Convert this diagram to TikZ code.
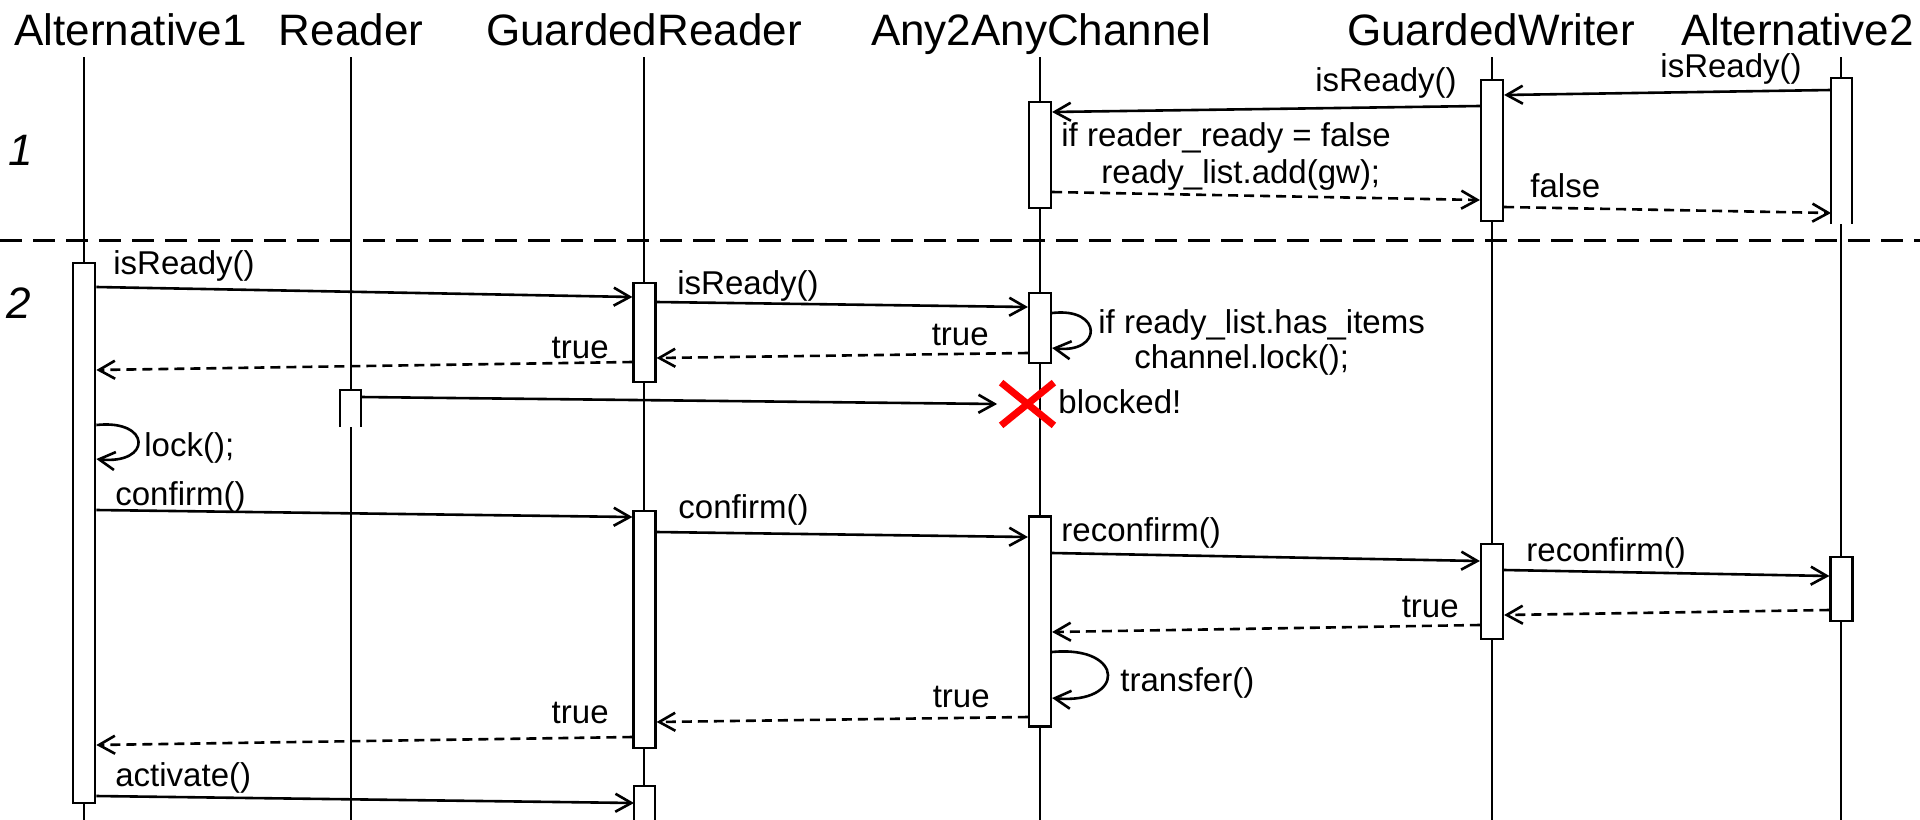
\documentclass[tikz,border=0pt]{standalone}
\usepackage{fontspec}
\setmainfont{Liberation Sans}
\usetikzlibrary{arrows.meta}
\tikzset{
  ttl/.style={font=\fontsize{22}{26}\selectfont, inner sep=0pt},
  sect/.style={font=\fontsize{22}{26}\selectfont\itshape, inner sep=0pt},
  lbl/.style={font=\fontsize{16.5}{18}\selectfont, inner sep=0pt},
  life/.style={line width=1pt},
  actbox/.style={draw, fill=white, line width=1.1pt, minimum width=11pt, inner sep=0pt},
  openbox/.style={line width=1.1pt},
  msg/.style={line width=1.3pt, -{Straight Barb[length=8pt,width=9pt,line width=1.3pt]}},
  ret/.style={msg, dash pattern=on 5pt off 3pt},
  sep/.style={line width=1.5pt, dash pattern=on 11pt off 5.5pt},
  cross/.style={red, line width=3.5pt},
}
\begin{document}
\begin{tikzpicture}[x=0.5pt,y=-0.5pt]
\useasboundingbox (0,0) rectangle (1920,819);
% titles
\node[ttl, anchor=base west] (tA1) at (14,45) {Alternative1};
\node[ttl, anchor=base] (tR) at (351,45) {Reader};
\node[ttl, anchor=base] (tGR) at (644,45) {GuardedReader};
\node[ttl, anchor=base] (tC) at (1041,45) {Any2AnyChannel};
\node[ttl, anchor=base] (tGW) at (1491,45) {GuardedWriter};
\node[ttl, anchor=base east] (tA2) at (1914,45) {Alternative2};
% lifeline ends
\coordinate (LA1a) at (84,57);   \coordinate (LA1b) at (84,830);
\coordinate (LRa) at (351,57);   \coordinate (LRb) at (351,830);
\coordinate (LGRa) at (644,57);  \coordinate (LGRb) at (644,830);
\coordinate (LCa) at (1040,57);  \coordinate (LCb) at (1040,830);
\coordinate (LGWa) at (1492,57); \coordinate (LGWb) at (1492,830);
\coordinate (LA2a) at (1841,57); \coordinate (LA2b) at (1841,830);
\draw[life] (LA1a) -- (LA1b);
\draw[life] (LRa) -- (LRb);
\draw[life] (LGRa) -- (LGRb);
\draw[life] (LCa) -- (LCb);
\draw[life] (LGWa) -- (LGWb);
\draw[life] (LA2a) -- (LA2b);
% separator
\coordinate (sepL) at (0,240); \coordinate (sepR) at (1920,240);
\draw[sep] (sepL) -- (sepR);
\node[sect, anchor=base west] (s1) at (8,165) {1};
\node[sect, anchor=base west] (s2) at (6,318) {2};
% activation boxes
\node[actbox, minimum height=70.5pt] (gw1) at (1492,150.5) {};
\node[actbox, minimum height=53pt] (c1) at (1040,155) {};
\node[actbox, minimum height=270pt] (a1) at (84.25,533) {};
\node[actbox, minimum height=49.5pt] (gr1) at (644.5,332.5) {};
\node[actbox, minimum height=35pt] (c2) at (1040,328) {};
\node[actbox, minimum height=118.5pt] (gr2) at (644.5,629.5) {};
\node[actbox, minimum height=105pt] (c3) at (1040,621.5) {};
\node[actbox, minimum height=47.5pt] (gw2) at (1492,591.5) {};
\node[actbox, minimum height=32pt] (a2b) at (1841.5,589) {};
% open-bottom boxes
\coordinate (a2tW) at (1831,78); \coordinate (a2tE) at (1852,78);
\fill[white] (1831,78) rectangle (1852,224);
\draw[openbox] (a2tW |- 0,224) -- (a2tW) -- (a2tE) -- (a2tE |- 0,224);
\coordinate (rdW) at (340,390); \coordinate (rdE) at (361,390);
\fill[white] (340,390) rectangle (361,427);
\draw[openbox] (rdW |- 0,427) -- (rdW) -- (rdE) -- (rdE |- 0,427);
\coordinate (gr3W) at (634,786); \coordinate (gr3E) at (655,786);
\fill[white] (634,786) rectangle (655,840);
\draw[openbox] (gr3W |- 0,840) -- (gr3W) -- (gr3E) -- (gr3E |- 0,840);
% section 1 messages
\draw[msg] (a2tW |- 0,90) -- (gw1.east |- 0,95);
\node[lbl, anchor=base west] (l1) at (1660,77) {isReady()};
\draw[msg] (gw1.west |- 0,106) -- (c1.east |- 0,112);
\node[lbl, anchor=base west] (l2) at (1315,91) {isReady()};
\node[lbl, anchor=base west] (l3a) at (1061,146) {if reader\_ready = false};
\node[lbl, anchor=base west] (l3b) at (1101,183) {ready\_list.add(gw);};
\draw[ret] (c1.east |- 0,192) -- (gw1.west |- 0,200);
\draw[ret] (gw1.east |- 0,207) -- (a2tW |- 0,213);
\node[lbl, anchor=base west] (l4) at (1530,197) {false};
% section 2
\draw[msg] (a1.east |- 0,287) -- (gr1.west |- 0,297);
\node[lbl, anchor=base west] (l5) at (113,274) {isReady()};
\draw[msg] (gr1.east |- 0,302) -- (c2.west |- 0,307);
\node[lbl, anchor=base west] (l6) at (677,294) {isReady()};
\draw[msg] (c2.east |- 0,313) .. controls (1103,307) and (1103,354) .. (c2.east |- 0,348);
\node[lbl, anchor=base west] (l7a) at (1098,333) {if ready\_list.has\_items};
\node[lbl, anchor=base west] (l7b) at (1134,368) {channel.lock();};
\draw[ret] (c2.west |- 0,353) -- (gr1.east |- 0,358);
\node[lbl, anchor=base east] (l8) at (989,345) {true};
\draw[ret] (gr1.west |- 0,362) -- (a1.east |- 0,370);
\node[lbl, anchor=base east] (l9) at (609,358) {true};
% blocked reader
\node[minimum width=26pt, minimum height=21pt, inner sep=0pt] (X) at (1027.5,404) {};
\draw[cross] (X.north west) -- (X.south east) (X.south west) -- (X.north east);
\draw[msg] (rdE |- 0,397) -- ([xshift=-2pt]X.west);
\node[lbl, anchor=base west] (l10) at (1058,413) {blocked!};
% lock
\draw[msg] (a1.east |- 0,425) .. controls (152,419) and (152,465) .. (a1.east |- 0,459);
\node[lbl, anchor=base west] (l11) at (144,456) {lock();};
% confirm
\draw[msg] (a1.east |- 0,510) -- (gr2.west |- 0,517);
\node[lbl, anchor=base west] (l12) at (115,505) {confirm()};
\draw[msg] (gr2.east |- 0,532) -- (c3.west |- 0,537);
\node[lbl, anchor=base west] (l13) at (678,518) {confirm()};
\draw[msg] (c3.east |- 0,553) -- (gw2.west |- 0,561);
\node[lbl, anchor=base west] (l14) at (1061,541) {reconfirm()};
\draw[msg] (gw2.east |- 0,570) -- (a2b.west |- 0,576);
\node[lbl, anchor=base west] (l15) at (1526,561) {reconfirm()};
\draw[ret] (a2b.west |- 0,610) -- (gw2.east |- 0,615);
\draw[ret] (gw2.west |- 0,625) -- (c3.east |- 0,632);
\node[lbl, anchor=base east] (l16) at (1459,617) {true};
\draw[msg] (c3.east |- 0,652) .. controls (1126,645) and (1126,705) .. (c3.east |- 0,698);
\node[lbl, anchor=base west] (l17) at (1120,691) {transfer()};
\draw[ret] (c3.west |- 0,717) -- (gr2.east |- 0,722);
\node[lbl, anchor=base east] (l18) at (990,707) {true};
\draw[ret] (gr2.west |- 0,737) -- (a1.east |- 0,745);
\node[lbl, anchor=base east] (l19) at (609,723) {true};
\draw[msg] (a1.east |- 0,796) -- (gr3W |- 0,803);
\node[lbl, anchor=base west] (l20) at (115,786) {activate()};
\end{tikzpicture}
\end{document}
